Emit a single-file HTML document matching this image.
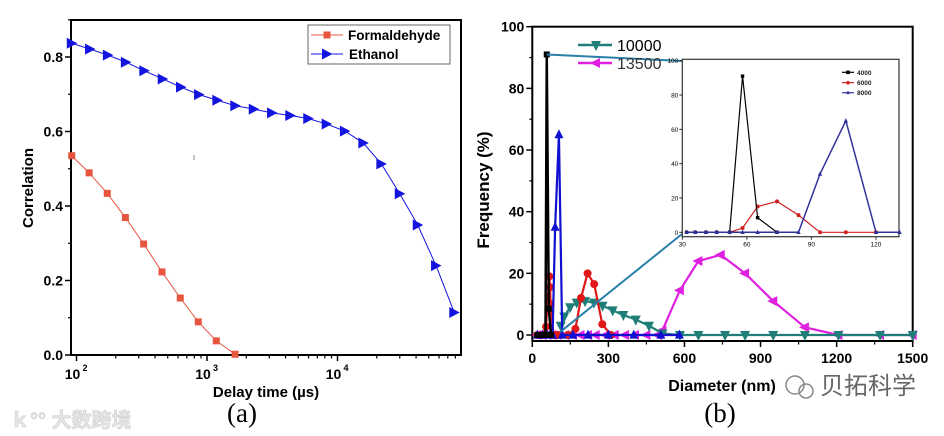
<!DOCTYPE html>
<html><head><meta charset="utf-8">
<style>
html,body{margin:0;padding:0;background:#fff;}
svg{display:block;font-family:"Liberation Sans",sans-serif;}
</style></head>
<body>
<svg id="fig" width="944" height="436" viewBox="0 0 944 436">
  <g id="pa"></g>
  <g id="pb"></g>
  <text x="242" y="422" font-family="Liberation Serif,serif" font-size="27" text-anchor="middle">(a)</text>
  <text x="720" y="422" font-family="Liberation Serif,serif" font-size="27" text-anchor="middle">(b)</text>
  <text x="10" y="427" font-family="Liberation Sans,'Noto Sans CJK SC',sans-serif" font-size="20" font-weight="bold" fill="#e6e6e6" stroke="#cfcfcf" stroke-width="0.6">ｋ°° 大数跨境</text>
  <g>
    <circle cx="795" cy="385" r="9" fill="none" stroke="#888" stroke-width="1.5"/>
    <circle cx="806" cy="391" r="7" fill="none" stroke="#888" stroke-width="1.5"/>
    <text x="820" y="394" font-family="'Noto Sans CJK SC',sans-serif" font-size="24" fill="#666">贝拓科学</text>
  </g>
</svg>
<script>
// ---------- Panel A data ----------
const formTimes = [92, 125, 172, 237, 327, 452, 624, 857, 1178, 1641];
const formVals = [0.535, 0.489, 0.434, 0.369, 0.298, 0.223, 0.153, 0.089, 0.038, 0.002];
const ethTimes = [92, 127, 174, 239, 331, 458, 632, 869, 1200, 1648, 2281, 3150, 4347, 5970, 8260, 11400, 15780, 21680, 29990, 41200, 56900, 78500];
const ethVals = [0.837, 0.821, 0.805, 0.786, 0.763, 0.741, 0.719, 0.699, 0.684, 0.669, 0.660, 0.650, 0.643, 0.635, 0.620, 0.601, 0.569, 0.513, 0.433, 0.349, 0.240, 0.114];
const aYTicks = [0.0, 0.2, 0.4, 0.6, 0.8];
const aXDecades = [2, 3, 4];

// ---------- Panel B data ----------
const s4000X = [20, 32, 36, 41, 46, 52, 57, 65, 74];
const s4000Y = [0, 0, 0, 0, 0, 0, 91, 8.5, 0];
const s6000X = [20, 40, 54, 67, 70, 72, 84, 100, 140, 170, 192, 218, 244, 276, 310];
const s6000Y = [0, 0, 2.7, 19, 15.5, 10, 0, 0, 0, 2, 12, 20, 16.5, 3.5, 0];
const s8000X = [20, 40, 60, 80, 90, 105, 118, 160, 220, 300, 400, 507, 580];
const s8000Y = [0, 0, 0, 0, 35, 65, 0, 0, 0, 0, 0, 0, 0];
const s10000X = [112, 126, 149, 175, 208, 243, 277, 317, 359, 408, 460, 513, 582, 655, 760, 839, 950, 1075, 1207, 1371, 1500];
const s10000Y = [3, 6, 9, 10.5, 11, 10.5, 9.5, 8, 6.5, 5, 3, 0.5, 0, 0, 0, 0, 0, 0, 0, 0, 0];
const s13500X = [20, 40, 60, 80, 100, 130, 160, 190, 220, 250, 290, 325, 365, 405, 450, 495, 513, 582, 655, 743, 839, 950, 1075, 1207, 1371, 1500];
const s13500Y = [0, 0, 0, 0, 0, 0, 0, 0, 0, 0, 0, 0, 0, 0, 0, 0, 1.5, 14.5, 24, 26, 20, 11, 2.5, 0, 0, 0];
const bYTicks = [0, 20, 40, 60, 80, 100];
const bXTicks = [0, 300, 600, 900, 1200, 1500];
const insYTicks = [0, 20, 40, 60, 80, 100];
const insXTicks = [30, 60, 90, 120];
const in4000X = [32, 36, 41, 46, 52, 58, 65, 74];
const in4000Y = [0, 0, 0, 0, 0, 91, 8.5, 0];
const in6000X = [52, 58, 65, 74, 84, 94, 106, 120];
const in6000Y = [0, 2.5, 15, 18, 10, 0, 0, 0];
const in8000X = [32, 36, 41, 46, 52, 58, 65, 74, 84, 94, 106, 120, 131];
const in8000Y = [0, 0, 0, 0, 0, 0, 0, 0, 0, 34, 65, 0, 0];

const NS = "http://www.w3.org/2000/svg";
function mk(parent, tag, attrs, text) {
  const e = document.createElementNS(NS, tag);
  for (const k in attrs) e.setAttribute(k, attrs[k]);
  if (text !== undefined) e.textContent = text;
  parent.appendChild(e);
  return e;
}
function marker(g, shape, x, y, s, fill) {
  if (shape === 'sq') return mk(g, 'rect', {x: x - s, y: y - s, width: 2 * s, height: 2 * s, fill: fill});
  if (shape === 'circ') return mk(g, 'circle', {cx: x, cy: y, r: s, fill: fill});
  let pts;
  if (shape === 'right') pts = [[x - s, y - s * 1.1], [x + s * 1.1, y], [x - s, y + s * 1.1]];
  if (shape === 'up') pts = [[x, y - s * 1.2], [x + s, y + s * 0.8], [x - s, y + s * 0.8]];
  if (shape === 'down') pts = [[x, y + s * 1.2], [x + s, y - s * 0.8], [x - s, y - s * 0.8]];
  if (shape === 'left') pts = [[x - s * 1.2, y], [x + s * 0.8, y - s], [x + s * 0.8, y + s]];
  return mk(g, 'polygon', {points: pts.map(p => p.join(',')).join(' '), fill: fill});
}

// ================= Panel A =================
const pa = document.getElementById('pa');
const aL = 71, aR = 461, aT = 20, aB = 355;
const ax = t => 76.5 + (Math.log10(t) - 2) * 130.5;
const ay = v => aB - v * 372.5;
mk(pa, 'rect', {x: aL, y: aT, width: aR - aL, height: aB - aT, fill: 'none', stroke: '#000', 'stroke-width': 2});
for (const v of aYTicks) {
  const t = mk(pa, 'line', {x1: aL - 6, x2: aL, y1: ay(v), y2: ay(v), stroke: '#000', 'stroke-width': 1.5});
  
  
  const l = mk(pa, 'text', {x: aL - 8, y: ay(v) + 5, 'font-size': 14, 'font-weight': 'bold', 'text-anchor': 'end'}, v.toFixed(1));
  
  
}
for (let v = 0.1; v < 0.9; v += 0.2) mk(pa, 'line', {x1: aL - 3, x2: aL, y1: ay(v), y2: ay(v), stroke: '#000', 'stroke-width': 1.2});
for (const d of aXDecades) {
  const x = ax(Math.pow(10, d));
  mk(pa, 'line', {x1: x, x2: x, y1: aB, y2: aB + 6, stroke: '#000', 'stroke-width': 1.5});
  const l = mk(pa, 'text', {x: x - 4, y: aB + 24, 'font-size': 14, 'font-weight': 'bold', 'text-anchor': 'middle'}, '10');
  
  
  mk(pa, 'text', {x: x + 6, y: aB + 16, 'font-size': 9, 'font-weight': 'bold'}, String(d));
  for (let m = 2; m <= 9; m++) {
    const xm = ax(m * Math.pow(10, d));
    if (xm > aR) break;
    mk(pa, 'line', {x1: xm, x2: xm, y1: aB, y2: aB + 3.5, stroke: '#000', 'stroke-width': 1.2});
  }
}
const xt = mk(pa, 'text', {x: 266, y: 397, 'font-size': 15, 'font-weight': 'bold', 'text-anchor': 'middle'}, 'Delay time (µs)');


const yt = mk(pa, 'text', {x: 0, y: 0, 'font-size': 15, 'font-weight': 'bold', 'text-anchor': 'middle', transform: 'translate(33,188) rotate(-90)'}, 'Correlation');


mk(pa, 'line', {x1: 194, x2: 194, y1: 155, y2: 160, stroke: '#888', 'stroke-width': 1});
// series
function seriesA(times, vals, color, shape, name) {
  const g = mk(pa, 'g', {});
  
  
  mk(g, 'polyline', {points: times.map((t, i) => ax(t) + ',' + ay(vals[i])).join(' '), fill: 'none', stroke: color, 'stroke-width': 1});
  times.forEach((t, i) => {
    const m = marker(g, shape, ax(t), ay(vals[i]), shape === 'sq' ? 3.5 : 5, color);
    
    
  });
}
seriesA(formTimes, formVals, '#e8553f', 'sq', 'formaldehyde-series');
seriesA(ethTimes, ethVals, '#1414e0', 'right', 'ethanol-series');
// legend
const lg = mk(pa, 'g', {});


mk(lg, 'rect', {x: 308, y: 25, width: 142, height: 39, fill: '#fff', stroke: '#666', 'stroke-width': 1});
mk(lg, 'line', {x1: 311, x2: 343, y1: 35, y2: 35, stroke: '#e8553f', 'stroke-width': 1});
marker(lg, 'sq', 327, 35, 3.5, '#e8553f');
mk(lg, 'text', {x: 348, y: 40, 'font-size': 13.5, 'font-weight': 'bold'}, 'Formaldehyde');
mk(lg, 'line', {x1: 311, x2: 343, y1: 54, y2: 54, stroke: '#1414e0', 'stroke-width': 1});
marker(lg, 'right', 327, 54, 5, '#1414e0');
mk(lg, 'text', {x: 349, y: 59, 'font-size': 13.5, 'font-weight': 'bold'}, 'Ethanol');

// ================= Panel B =================
const pb = document.getElementById('pb');
const bL = 532.3, bR = 912.7, bT = 26.7, bB = 341;
const bx = d => bL + d * 0.2536;
const by = v => 335 - v * 3.083;
mk(pb, 'rect', {x: bL, y: bT, width: bR - bL, height: bB - bT, fill: 'none', stroke: '#000', 'stroke-width': 2});
for (const v of bYTicks) {
  mk(pb, 'line', {x1: bL - 6, x2: bL, y1: by(v), y2: by(v), stroke: '#000', 'stroke-width': 1.5});
  const l = mk(pb, 'text', {x: bL - 8, y: by(v) + 5, 'font-size': 14, 'font-weight': 'bold', 'text-anchor': 'end'}, String(v));
  
  
  if (v < 100) mk(pb, 'line', {x1: bL - 3, x2: bL, y1: by(v + 10), y2: by(v + 10), stroke: '#000', 'stroke-width': 1.2});
}
for (const d of bXTicks) {
  mk(pb, 'line', {x1: bx(d), x2: bx(d), y1: bB, y2: bB + 6, stroke: '#000', 'stroke-width': 1.5});
  const l = mk(pb, 'text', {x: bx(d), y: bB + 22, 'font-size': 14, 'font-weight': 'bold', 'text-anchor': 'middle'}, String(d));
  
  
  if (d < 1500) mk(pb, 'line', {x1: bx(d + 150), x2: bx(d + 150), y1: bB, y2: bB + 3.5, stroke: '#000', 'stroke-width': 1.2});
}
const bxt = mk(pb, 'text', {x: 722, y: 391, 'font-size': 16, 'font-weight': 'bold', 'text-anchor': 'middle'}, 'Diameter (nm)');


const byt = mk(pb, 'text', {x: 0, y: 0, 'font-size': 17, 'font-weight': 'bold', 'text-anchor': 'middle', transform: 'translate(489,190) rotate(-90)'}, 'Frequency (%)');



function seriesB(g0, X, Y, fx, fy, color, shape, ms, lw, name) {
  const g = mk(g0, 'g', {});
  
  
  mk(g, 'polyline', {points: X.map((d, i) => fx(d) + ',' + fy(Y[i])).join(' '), fill: 'none', stroke: color, 'stroke-width': lw, 'stroke-linejoin': 'round'});
  X.forEach((d, i) => {
    const m = marker(g, shape, fx(d), fy(Y[i]), ms, color);
    
    
  });
}
seriesB(pb, s13500X, s13500Y, bx, by, '#e020e0', 'left', 5, 2.2, 'series-13500');
seriesB(pb, s10000X, s10000Y, bx, by, '#1f7f78', 'down', 5, 2.2, 'series-10000');
seriesB(pb, s6000X, s6000Y, bx, by, '#e01818', 'circ', 4, 2.2, 'series-6000-main');
seriesB(pb, s8000X, s8000Y, bx, by, '#1010d0', 'up', 4.5, 2.2, 'series-8000-main');
seriesB(pb, s4000X, s4000Y, bx, by, '#000', 'sq', 3, 2.5, 'series-4000-main');
// zoom lines
mk(pb, 'line', {x1: bx(57), y1: by(91), x2: 682, y2: 61, stroke: '#2a80a8', 'stroke-width': 2});
mk(pb, 'line', {x1: bx(110), y1: by(1), x2: 682, y2: 234, stroke: '#2a80a8', 'stroke-width': 2});
// legend
const lgb = mk(pb, 'g', {});


mk(lgb, 'line', {x1: 578, x2: 612, y1: 45, y2: 45, stroke: '#1f7f78', 'stroke-width': 2.5});
marker(lgb, 'down', 596, 45, 5, '#1f7f78');
mk(lgb, 'text', {x: 617, y: 51, 'font-size': 16}, '10000');
mk(lgb, 'line', {x1: 578, x2: 612, y1: 63, y2: 63, stroke: '#e020e0', 'stroke-width': 2.5});
marker(lgb, 'left', 596, 63, 5, '#e020e0');
mk(lgb, 'text', {x: 617, y: 69, 'font-size': 16, fill: '#333'}, '13500');

// ---- inset ----
const ins = mk(pb, 'g', {});


const iL = 682.3, iR = 899, iT = 59.3, iB = 236.7;
const ix = d => iL + (d - 30) * 2.152;
const iy = v => 232.3 - v * 1.716;
mk(ins, 'rect', {x: iL, y: iT, width: iR - iL, height: iB - iT, fill: '#fff', stroke: '#333', 'stroke-width': 1.2});
for (const v of insYTicks) {
  mk(ins, 'line', {x1: iL - 3, x2: iL, y1: iy(v), y2: iy(v), stroke: '#333', 'stroke-width': 1});
  mk(ins, 'text', {x: iL - 4, y: iy(v) + 2.5, 'font-size': 6.5, 'text-anchor': 'end'}, String(v));
}
for (const d of insXTicks) {
  mk(ins, 'line', {x1: ix(d), x2: ix(d), y1: iB, y2: iB + 3, stroke: '#333', 'stroke-width': 1});
  mk(ins, 'text', {x: ix(d), y: iB + 10, 'font-size': 6.5, 'text-anchor': 'middle'}, String(d));
}
seriesB(ins, in6000X, in6000Y, ix, iy, '#d02020', 'circ', 2, 1.2, 'inset-series-6000');
seriesB(ins, in4000X, in4000Y, ix, iy, '#000', 'sq', 1.7, 1.2, 'inset-series-4000');
seriesB(ins, in8000X, in8000Y, ix, iy, '#33339c', 'up', 2.2, 1.5, 'inset-series-8000');
const il = mk(ins, 'g', {});


[['4000', '#000', 'sq', 72.3], ['6000', '#d02020', 'circ', 82.7], ['8000', '#33339c', 'up', 92.7]].forEach(r => {
  mk(il, 'line', {x1: 842, x2: 854, y1: r[3], y2: r[3], stroke: r[1], 'stroke-width': 1.2});
  marker(il, r[2], 848, r[3], 1.8, r[1]);
  mk(il, 'text', {x: 857, y: r[3] + 2.5, 'font-size': 6.5, 'font-weight': 'bold', fill: '#222'}, r[0]);
});
</script>
</body></html>
